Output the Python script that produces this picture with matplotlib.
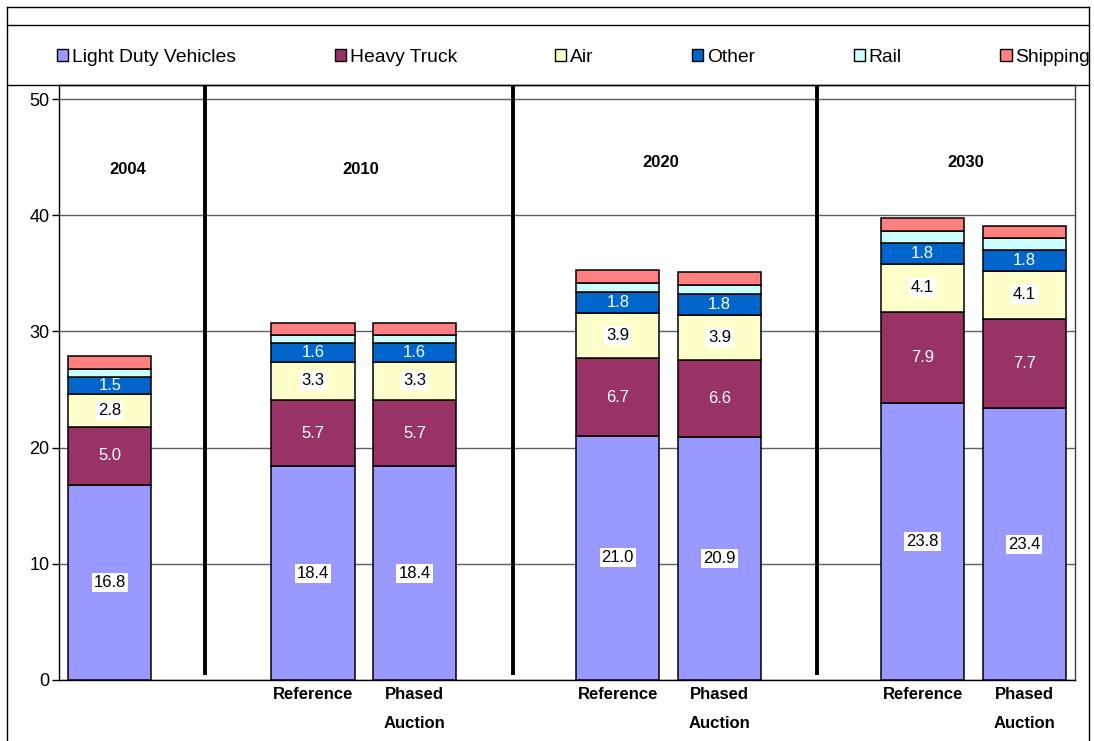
import numpy as np
import matplotlib
matplotlib.use('Agg')
import matplotlib.pyplot as plt
from matplotlib.patches import Rectangle
from matplotlib.lines import Line2D

plt.rcParams['font.family'] = ['Liberation Sans', 'DejaVu Sans']

# --- data ---------------------------------------------------------------
years = ['2004', '2010', '2020', '2030']
# bars: 2004, 2010 Ref, 2010 Phased, 2020 Ref, 2020 Phased, 2030 Ref, 2030 Phased
bar_labels = ['', 'Reference', 'Phased\nAuction', 'Reference', 'Phased\nAuction',
              'Reference', 'Phased\nAuction']
light_duty = [16.8, 18.4, 18.4, 21.0, 20.9, 23.8, 23.4]
heavy_truck = [5.0, 5.7, 5.7, 6.7, 6.6, 7.9, 7.7]
air = [2.8, 3.3, 3.3, 3.9, 3.9, 4.1, 4.1]
other = [1.5, 1.6, 1.6, 1.8, 1.8, 1.8, 1.8]
rail = [0.7, 0.7, 0.7, 0.8, 0.8, 1.0, 1.0]
shipping = [1.1, 1.0, 1.0, 1.1, 1.1, 1.2, 1.1]

series_names = ['Light Duty Vehicles', 'Heavy Truck', 'Air', 'Other', 'Rail', 'Shipping']
series_vals = [light_duty, heavy_truck, air, other, rail, shipping]
colors = ['#9999FF', '#993366', '#FFFFCC', '#0066CC', '#CCFFFF', '#FF8080']
# label style per series: (show, text colour, white box)
label_style = [(True, 'black', True), (True, 'white', False), (True, 'black', True),
               (True, 'white', False), (False, None, False), (False, None, False)]

# slot positions: 2004 alone, then groups of two separated by an empty slot
x_pos = np.array([0, 2, 3, 5, 6, 8, 9])
separators = [0.94, 3.97, 6.96]
year_text_pos = [(0.18, 43.9), (2.47, 43.9), (5.42, 44.5), (8.42, 44.5)]

W, H = 1094, 741
fig = plt.figure(figsize=(W / 100, H / 100), dpi=100)
ax = fig.add_axes([59 / W, 1 - 680 / H, 1016 / W, 595 / H])

bottom = np.zeros(len(x_pos))
for name, vals, col, (show, tcol, box) in zip(series_names, series_vals, colors, label_style):
    vals = np.array(vals)
    ax.bar(x_pos, vals, width=0.82, bottom=bottom, color=col, edgecolor='black',
           linewidth=1.1, label=name, zorder=3)
    if show:
        for xp, b, v in zip(x_pos, bottom, vals):
            kw = {}
            if box:
                kw['bbox'] = dict(boxstyle='square,pad=0.12', fc='white', ec='none')
            ax.text(xp, b + v / 2, f'{v:.1f}', ha='center', va='center', color=tcol,
                    fontsize=12, zorder=5, **kw)
    bottom += vals

# separators between years
ymax = 595 / 11.62
for s in separators:
    ax.plot([s, s], [0.43, ymax], color='black', linewidth=2.8, zorder=4,
            solid_capstyle='butt', clip_on=False)

for yr, (xt, yt) in zip(years, year_text_pos):
    ax.text(xt, yt, yr, ha='center', va='center', fontsize=12, fontweight='bold')

ax.set_xlim(-0.5, 9.5)
ax.set_ylim(0, ymax)
ax.set_yticks(np.arange(0, 51, 10))
ax.yaxis.grid(True, color='#606060', linewidth=1.0, zorder=0)
ax.set_axisbelow(True)
ax.set_xticks(x_pos)
ax.set_xticklabels(bar_labels, fontsize=12, fontweight='bold', linespacing=2.15, va='top')
ax.tick_params(axis='x', length=0, pad=5)
ax.tick_params(axis='y', labelsize=13, length=5, width=1.0, pad=2, direction='out')
for sp in ax.spines.values():
    sp.set_linewidth(1.0)
ax.spines['right'].set_color('#404040')

# legend across the top
handles = [Rectangle((0, 0), 1, 1, facecolor=c, edgecolor='black', linewidth=1.0) for c in colors]
fig.legend(handles, series_names, loc='center left', bbox_to_anchor=(57 / W, 1 - 57 / H),
           ncol=6, frameon=False, fontsize=13.9, handlelength=0.58, handleheight=0.58,
           handletextpad=0.2, columnspacing=5.1, borderpad=0, borderaxespad=0)


# outer frame and legend box lines
def fig_line(x0, y0, x1, y1):
    fig.add_artist(Line2D([x0 / W, x1 / W], [1 - y0 / H, 1 - y1 / H], color='black',
                          linewidth=1.0, transform=fig.transFigure))


fig_line(7, 7, 1089, 7)
fig_line(7, 25, 1089, 25)
fig_line(7, 85, 1089, 85)
fig_line(7, 7, 7, H)
fig_line(1089, 7, 1089, H)

fig.savefig('out.png', dpi=100)
